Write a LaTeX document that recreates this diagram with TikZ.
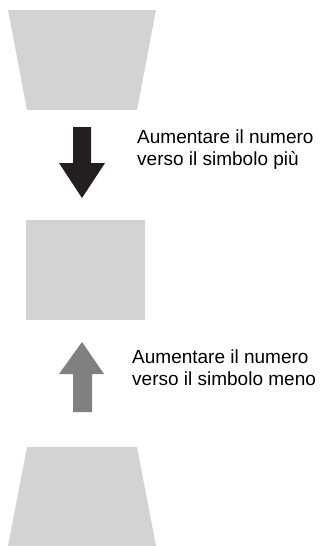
\documentclass[tikz,border=0pt]{standalone}
\usepackage{fontspec}
\setmainfont{Liberation Sans}
\definecolor{screengray}{HTML}{D1D3D4}
\definecolor{arrowdark}{HTML}{231F20}
\definecolor{arrowgray}{HTML}{808080}
\begin{document}
\begin{tikzpicture}[x=1pt,y=-1pt,
  notetext/.style={anchor=base west, align=left, inner sep=0pt, font=\fontsize{19}{22.5}\selectfont}]
\useasboundingbox (0,0) rectangle (326,546);
% top screen
\fill [screengray] (8,10) -- (156,10) -- (137,110) -- (27,110) -- cycle;
% down arrow
\fill [arrowdark] (73,127) -- (91,127) -- (91,163) -- (105,163) -- (82,198) -- (59,163) -- (73,163) -- cycle;
\node [notetext] (plus) at (137,165.5) {Aumentare il numero\\verso il simbolo più};
% middle screen
\fill [screengray] (26,220) rectangle (145,320);
% up arrow
\fill [arrowgray] (73,412) -- (92,412) -- (92,374) -- (104,374) -- (82,342) -- (59,374) -- (73,374) -- cycle;
\node [notetext] (minus) at (132,385.5) {Aumentare il numero\\verso il simbolo meno};
% bottom screen
\fill [screengray] (27,447) -- (137,447) -- (156,546) -- (8,546) -- cycle;
\end{tikzpicture}
\end{document}
